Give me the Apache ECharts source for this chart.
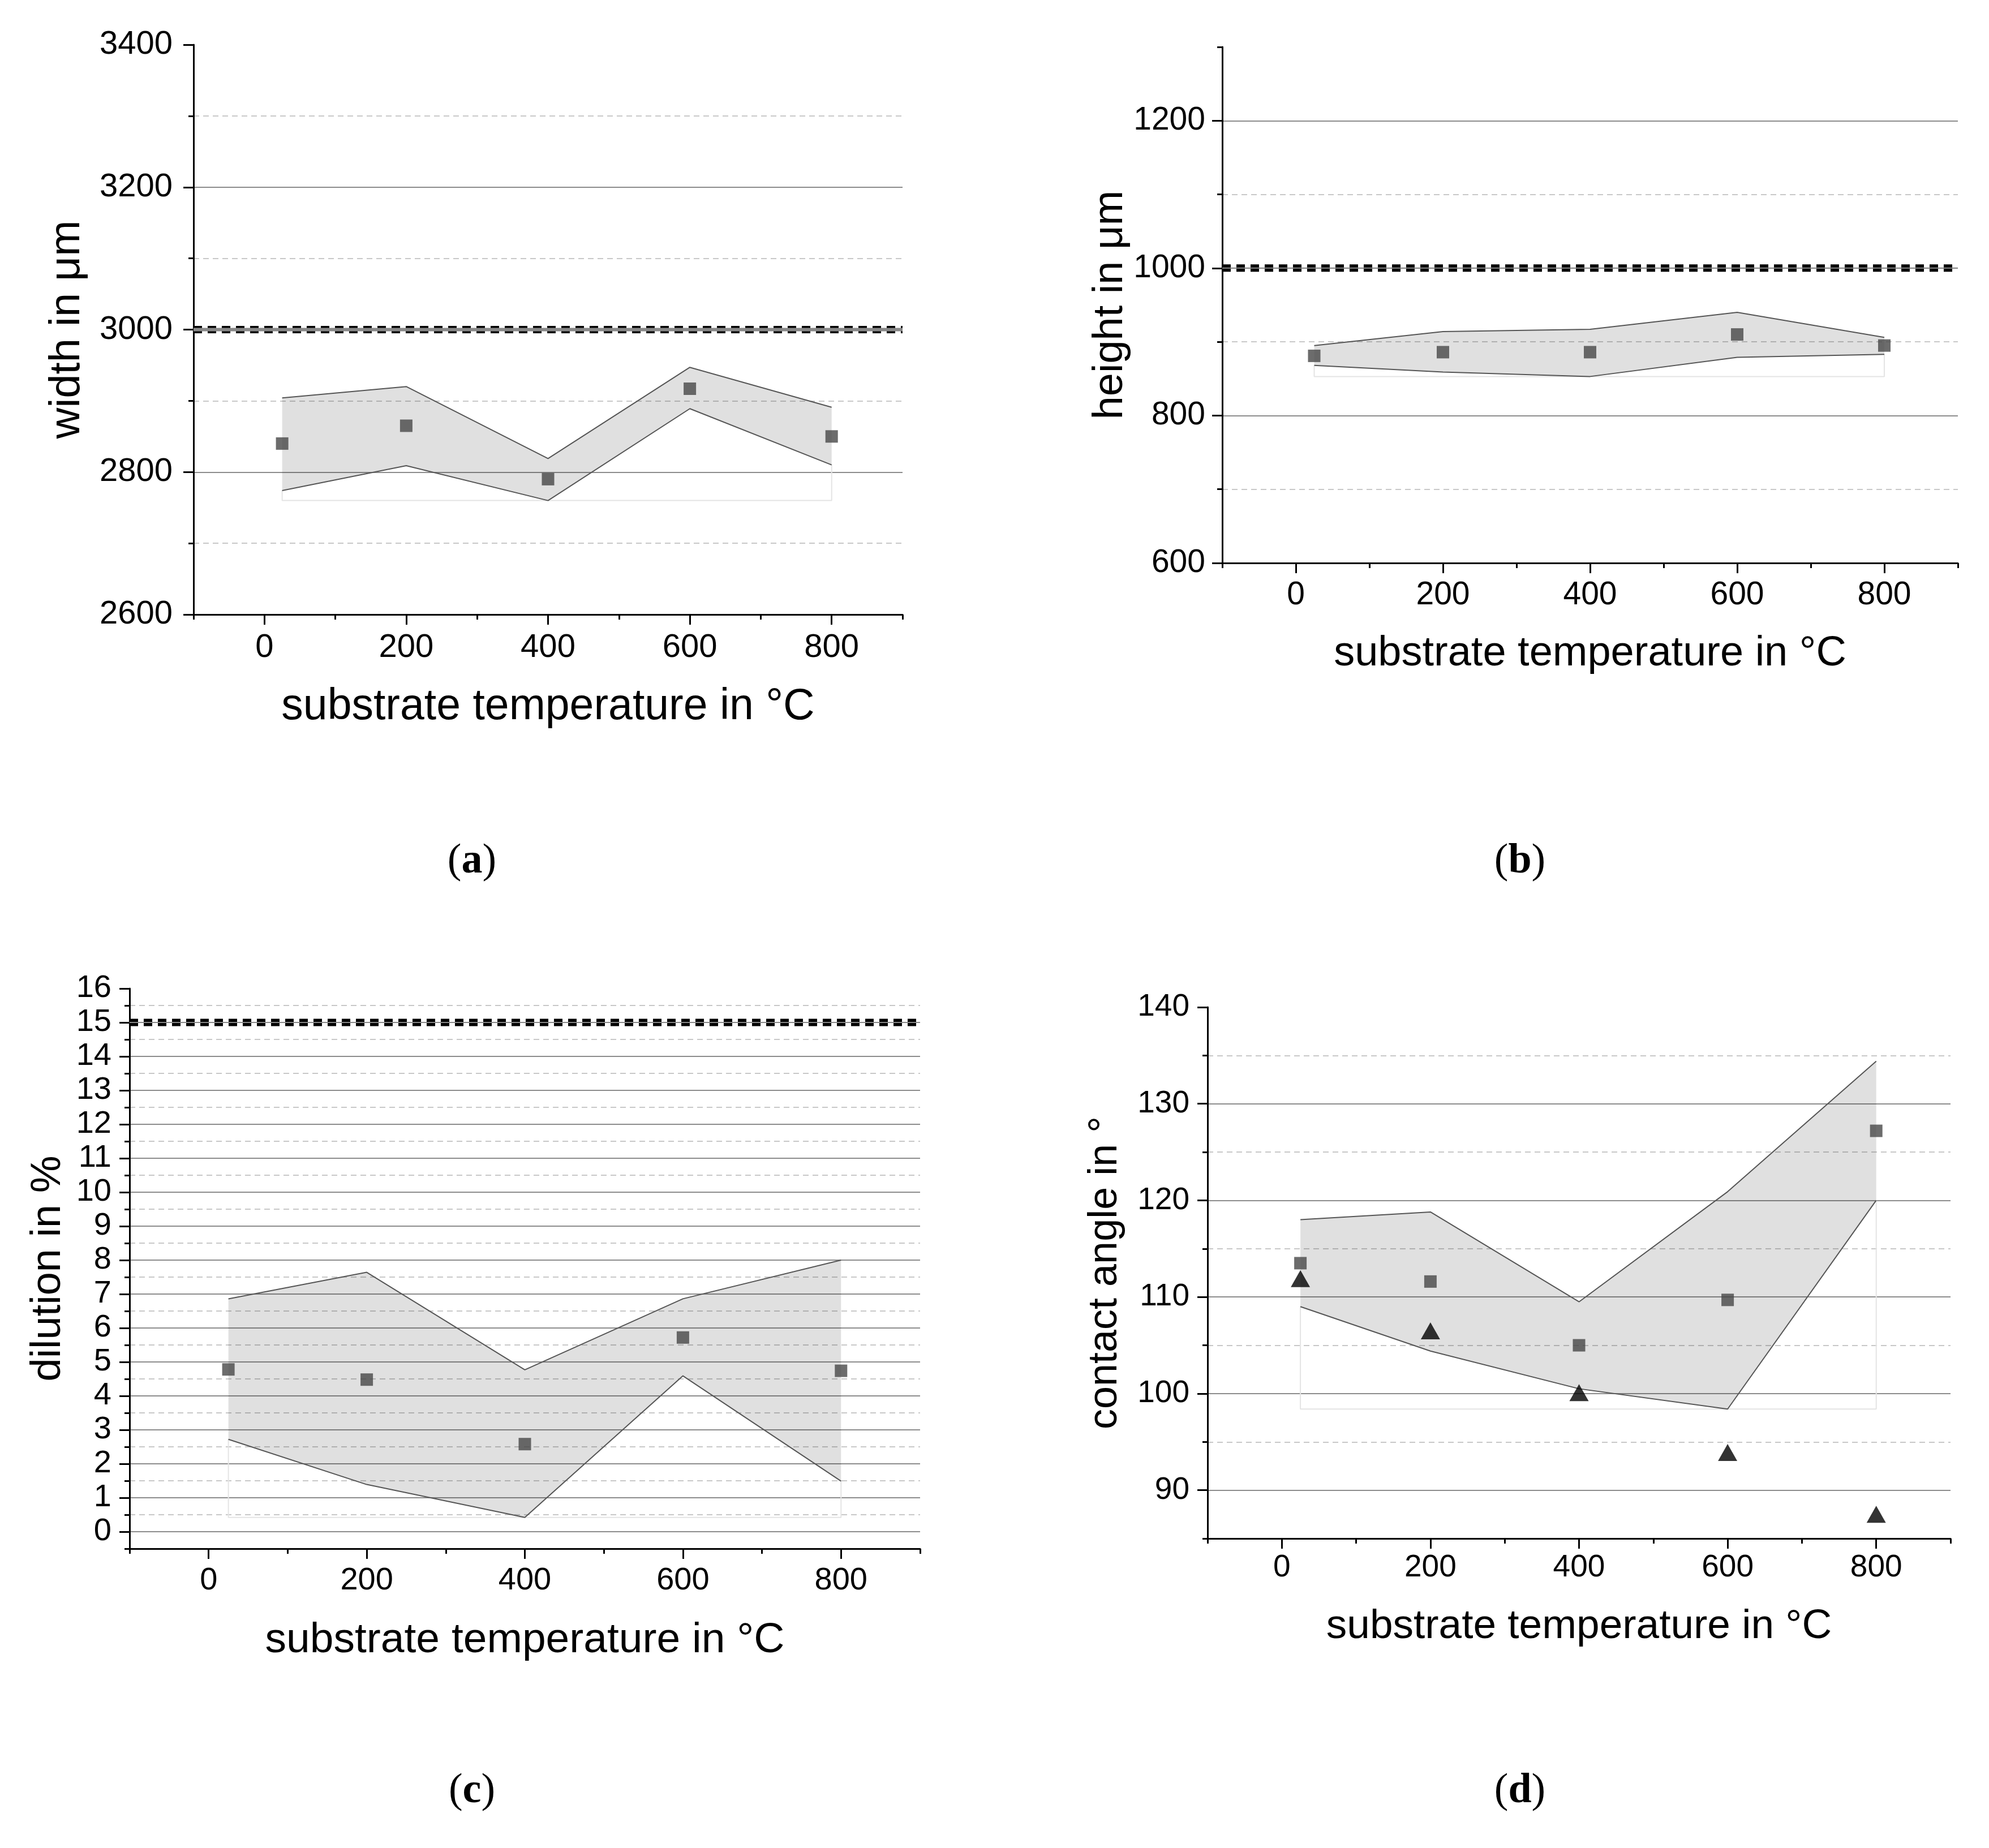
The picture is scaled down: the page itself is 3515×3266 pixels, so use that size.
<!DOCTYPE html>
<html>
<head>
<meta charset="utf-8">
<script src="https://cdn.jsdelivr.net/npm/echarts@6/dist/echarts.min.js"></script>
<style>
html, body { margin: 0; padding: 0; background: #fff; }
#main { width: 3515px; height: 3266px; }
</style>
</head>
<body>
<div id="main"></div>
<script>
// substrate temperatures (x) and tick labels
var temps = [25, 200, 400, 600, 800];
var tempTicks = [0, 200, 400, 600, 800];
var xMin = -100, xMax = 900;

// (a) width in um
var widthMean  = [2840, 2865, 2790, 2917, 2850];
var widthUpper = [2904, 2920, 2819, 2947, 2891];
var widthLower = [2774, 2809, 2760, 2889, 2810];
var widthTicks = [2600, 2800, 3000, 3200, 3400];

// (b) height in um
var heightMean  = [881, 886, 886, 910, 895];
var heightUpper = [895, 914, 917, 940, 906];
var heightLower = [868, 859, 853, 879, 883];
var heightTicks = [600, 800, 1000, 1200];

// (c) dilution in %
var dilutionMean  = [4.78, 4.48, 2.58, 5.72, 4.74];
var dilutionUpper = [6.86, 7.64, 4.77, 6.86, 8.0];
var dilutionLower = [2.72, 1.39, 0.42, 4.59, 1.49];
var dilutionTicks = [0, 1, 2, 3, 4, 5, 6, 7, 8, 9, 10, 11, 12, 13, 14, 15, 16];

// (d) contact angle in degrees
var angleMean   = [113.5, 111.6, 105.0, 109.7, 127.2];
var angleUpper  = [118.0, 118.8, 109.5, 120.9, 134.4];
var angleLower  = [109.0, 104.4, 100.5, 98.4, 120.0];
var angleTarget = [111.9, 106.5, 100.1, 93.9, 87.5];
var angleTicks  = [90, 100, 110, 120, 130, 140];

// target values (dashed lines)
var targets = [3000, 1000, 15];

var font = '"Liberation Sans", Arial, sans-serif';

var panels = [
  { tag: 'a', grid: { left: 342, top: 79, width: 1253, height: 1007 }, tickSize: 58, nameSize: 77, yNameSize: 76,
    yName: 'width in μm', yMin: 2600, yMax: 3400, yTicks: widthTicks, yMinor: 100, minLine: false, maxLine: false,
    mean: widthMean, upper: widthUpper, lower: widthLower, target: targets[0], core: 6,
    yNameGap: 185, xNameGap: 125, xLabelMargin: 30, yLabelMargin: 37, label: [834, 1523] },
  { tag: 'b', grid: { left: 2160, top: 83, width: 1300, height: 912 }, tickSize: 57, nameSize: 74, yNameSize: 74,
    yName: 'height in μm', yMin: 600, yMax: 1300, yTicks: heightTicks, yMinor: 100, minLine: false, maxLine: true,
    mean: heightMean, upper: heightUpper, lower: heightLower, target: targets[1], core: 2,
    yNameGap: 160, xNameGap: 124, xLabelMargin: 29, yLabelMargin: 30, label: [2686, 1523] },
  { tag: 'c', grid: { left: 229, top: 1747, width: 1397, height: 990 }, tickSize: 56, nameSize: 75, yNameSize: 74,
    yName: 'dilution in %', yMin: -0.5, yMax: 16, yTicks: dilutionTicks, yMinor: 0.5, minLine: true, maxLine: false,
    mean: dilutionMean, upper: dilutionUpper, lower: dilutionLower, target: targets[2], core: 2,
    yNameGap: 106, xNameGap: 125, xLabelMargin: 29, yLabelMargin: 32, label: [834, 3166] },
  { tag: 'd', grid: { left: 2134, top: 1780, width: 1313, height: 939 }, tickSize: 55, nameSize: 73, yNameSize: 72,
    yName: 'contact angle in °', yMin: 85, yMax: 140, yTicks: angleTicks, yMinor: 5, minLine: true, maxLine: false,
    mean: angleMean, upper: angleUpper, lower: angleLower, second: angleTarget, core: 0,
    yNameGap: 145, xNameGap: 119, xLabelMargin: 24, yLabelMargin: 32, label: [2686, 3166] }
];

function pairs(xs, ys) {
  return xs.map(function (x, i) { return [x, ys[i]]; });
}
function plain(v) { return String(v); }

var grids = [], xAxes = [], yAxes = [], series = [], graphics = [];

panels.forEach(function (p, i) {
  var black = { color: '#000', width: 3 };
  grids.push(p.grid);

  // x axis with labels and long ticks, plus a bare one for the 100 steps
  xAxes.push({
    type: 'value', gridIndex: i, min: xMin, max: xMax, position: 'bottom', z: 1,
    name: 'substrate temperature in °C', nameLocation: 'middle', nameGap: p.xNameGap,
    nameTextStyle: { fontFamily: font, fontSize: p.nameSize, color: '#000' },
    axisLine: { onZero: false, lineStyle: black },
    axisTick: { customValues: tempTicks, length: 18, lineStyle: black },
    axisLabel: { customValues: tempTicks, formatter: plain, margin: p.xLabelMargin, fontFamily: font, fontSize: p.tickSize, color: '#000' },
    splitLine: { show: false }
  });
  xAxes.push({
    type: 'value', gridIndex: i, min: xMin, max: xMax, interval: 100, position: 'bottom', z: 0,
    axisLine: { show: false, onZero: false },
    axisTick: { length: 9, lineStyle: black },
    axisLabel: { show: false }, splitLine: { show: false }
  });

  yAxes.push({
    type: 'value', gridIndex: i, min: p.yMin, max: p.yMax, position: 'left', z: 1,
    name: p.yName, nameLocation: 'middle', nameGap: p.yNameGap,
    nameTextStyle: { fontFamily: font, fontSize: p.yNameSize, color: '#000' },
    axisLine: { onZero: false, lineStyle: black },
    axisTick: { customValues: p.yTicks, length: 18, lineStyle: black },
    axisLabel: { customValues: p.yTicks, formatter: plain, margin: p.yLabelMargin, fontFamily: font, fontSize: p.tickSize, color: '#000' },
    splitLine: { show: true, showMinLine: p.minLine, showMaxLine: p.maxLine, lineStyle: { color: '#8c8c8c', width: 2 } }
  });
  yAxes.push({
    type: 'value', gridIndex: i, min: p.yMin, max: p.yMax, interval: p.yMinor, position: 'left', z: 0,
    axisLine: { show: false, onZero: false },
    axisTick: { length: 9, lineStyle: black },
    axisLabel: { show: false },
    splitLine: { show: true, showMinLine: false, showMaxLine: false, lineStyle: { color: '#c8c8c8', width: 2, type: [10, 7] } }
  });

  var xi = 2 * i, yi = 2 * i;
  var base = Math.min.apply(null, p.lower);

  // shaded band between upper and lower curve
  series.push({
    type: 'custom', xAxisIndex: xi, yAxisIndex: yi, z: 1, silent: true,
    data: [[temps[0], p.upper[0]]],
    renderItem: function (params, api) {
      var pts = [];
      for (var k = 0; k < temps.length; k++) pts.push(api.coord([temps[k], p.upper[k]]));
      for (var k2 = temps.length - 1; k2 >= 0; k2--) pts.push(api.coord([temps[k2], p.lower[k2]]));
      return { type: 'polygon', shape: { points: pts }, style: { fill: 'rgba(0,0,0,0.12)' } };
    }
  });
  // faint outline down to the lowest value
  series.push({
    type: 'line', xAxisIndex: xi, yAxisIndex: yi, z: 1, symbol: 'none', silent: true,
    data: [[temps[0], p.lower[0]], [temps[0], base], [temps[temps.length - 1], base], [temps[temps.length - 1], p.lower[p.lower.length - 1]]],
    lineStyle: { color: '#e4e4e4', width: 2 }
  });
  [p.upper, p.lower].forEach(function (arr) {
    series.push({
      type: 'line', xAxisIndex: xi, yAxisIndex: yi, z: 2, symbol: 'none', silent: true,
      data: pairs(temps, arr), lineStyle: { color: '#555', width: 2 }
    });
  });

  if (p.target !== undefined) {
    series.push({
      type: 'line', xAxisIndex: xi, yAxisIndex: yi, z: 3, symbol: 'none', silent: true,
      data: [[xMin, p.target], [xMax, p.target]], lineStyle: { color: '#000', width: 13, type: [15, 10] }
    });
    series.push({
      type: 'line', xAxisIndex: xi, yAxisIndex: yi, z: 4, symbol: 'none', silent: true,
      data: [[xMin, p.target], [xMax, p.target]], lineStyle: { color: '#888', width: p.core }
    });
  }

  series.push({
    type: 'scatter', xAxisIndex: xi, yAxisIndex: yi, z: 5, symbol: 'rect', symbolSize: 22,
    data: pairs(temps, p.mean), itemStyle: { color: '#474747' }
  });
  if (p.second) {
    series.push({
      type: 'scatter', xAxisIndex: xi, yAxisIndex: yi, z: 5, symbol: 'triangle', symbolSize: [34, 30],
      data: pairs(temps, p.second), itemStyle: { color: '#000' }
    });
  }

  graphics.push({
    type: 'text', x: p.label[0], y: p.label[1],
    style: {
      text: '{p|(}{b|' + p.tag + '}{p|)}', align: 'center', verticalAlign: 'middle',
      rich: {
        p: { fontFamily: '"Liberation Serif", serif', fontSize: 74, color: '#000' },
        b: { fontFamily: '"Liberation Serif", serif', fontSize: 74, fontWeight: 'bold', color: '#000' }
      }
    }
  });
});

var myChart = echarts.init(document.getElementById('main'));
myChart.setOption({
  animation: false,
  backgroundColor: '#fff',
  grid: grids,
  xAxis: xAxes,
  yAxis: yAxes,
  series: series,
  graphic: graphics
});
</script>
</body>
</html>
